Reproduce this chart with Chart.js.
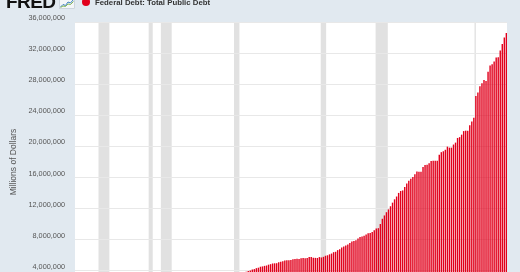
<!DOCTYPE html>
<html>
<head>
<meta charset="utf-8">
<script src="https://cdn.jsdelivr.net/npm/chart.js@4.4.1/dist/chart.umd.min.js"></script>
<style>
  html, body { margin: 0; padding: 0; }
  body { width: 520px; height: 272px; overflow: hidden; background: #e1e9f0; position: relative;
         font-family: "Liberation Sans", Arial, sans-serif; }
  #wrap { position: absolute; left: 0; top: 0; width: 520px; height: 330px; }
  #logo { position: absolute; left: 6px; top: -8px; font-size: 19px; line-height: 19px; font-weight: 900;
          color: #111; letter-spacing: -0.6px; }
  #logo-icon { position: absolute; left: 59px; top: -2px; }
  #legend { position: absolute; left: 82px; top: -3px; height: 12px; line-height: 12px; white-space: nowrap;
            font-size: 7.8px; font-weight: bold; color: #333; }
  #legend .dot { display: inline-block; width: 8px; height: 8px; border-radius: 50%; background: #e1001c;
                 vertical-align: middle; margin-right: 5px; position: relative; top: -1px; }
</style>
</head>
<body>
<div id="wrap"><canvas id="chart"></canvas></div>
<div id="logo">FRED</div>
<svg id="logo-icon" width="16" height="11" viewBox="0 0 16 11">
  <rect x="0.5" y="0.5" width="15" height="10" fill="#f4f6f8" stroke="#b9c4cf" stroke-width="0.6"/>
  <polyline points="1.5,9 4,6.5 6.5,7.5 9,4 11.5,5 14.5,1.5" fill="none" stroke="#3c7fc0" stroke-width="1"/>
  <polyline points="1.5,9.5 4,8 6.5,8.5 9,6 11.5,6.5 14.5,3.5" fill="none" stroke="#7cb342" stroke-width="0.9"/>
</svg>
<div id="legend"><span class="dot"></span>Federal Debt: Total Public Debt</div>

<script>
// Federal Debt: Total Public Debt, quarterly, millions of dollars (1971 Q1 – 2024 Q1)
const firstYear = 1971;
const debtValues = [
  // 1971 – 1980
  400000, 406000, 418000, 425000,
  430000, 433000, 440000, 449000,
  456000, 458000, 466000, 469000,
  473000, 475000, 482000, 493000,
  515000, 544000, 571000, 602000,
  625000, 640000, 658000, 682000,
  696000, 708000, 717000, 747000,
  765000, 773000, 783000, 800000,
  817000, 816000, 833000, 858000,
  881000, 895000, 917000, 950000,
  // 1981 – 1990
  970000, 986000, 1003000, 1043000,
  1070000, 1087000, 1147000, 1202000,
  1247000, 1309000, 1381000, 1433000,
  1479000, 1512000, 1572000, 1662000,
  1715000, 1775000, 1823000, 1945000,
  1986000, 2059000, 2125000, 2214000,
  2249000, 2313000, 2350000, 2432000,
  2493000, 2555000, 2602000, 2684000,
  2740000, 2799000, 2857000, 2953000,
  3052000, 3143000, 3233000, 3364000,
  // 1991 – 2000
  3465000, 3538000, 3665000, 3801000,
  3881000, 3984000, 4065000, 4177000,
  4230000, 4352000, 4411000, 4536000,
  4576000, 4646000, 4692000, 4800000,
  4864000, 4951000, 4974000, 4989000,
  5117000, 5161000, 5224000, 5323000,
  5380000, 5376000, 5413000, 5502000,
  5542000, 5548000, 5526000, 5614000,
  5651000, 5638000, 5656000, 5776000,
  5773000, 5686000, 5674000, 5662000,
  // 2001 – 2010
  5773000, 5726000, 5807000, 5943000,
  6006000, 6126000, 6228000, 6405000,
  6460000, 6670000, 6783000, 6998000,
  7131000, 7274000, 7379000, 7596000,
  7776000, 7836000, 7933000, 8170000,
  8371000, 8420000, 8507000, 8680000,
  8849000, 8867000, 9008000, 9229000,
  9437000, 9492000, 10025000, 10700000,
  11127000, 11545000, 11910000, 12311000,
  12773000, 13202000, 13562000, 14025000,
  // 2011 – 2020
  14270000, 14343000, 14790000, 15223000,
  15582000, 15856000, 16066000, 16433000,
  16771000, 16738000, 16738000, 17352000,
  17601000, 17633000, 17824000, 18141000,
  18152000, 18152000, 18151000, 18922000,
  19264000, 19381000, 19573000, 19977000,
  19846000, 19845000, 20245000, 20493000,
  21090000, 21195000, 21516000, 21974000,
  22028000, 22023000, 22719000, 23201000,
  23687000, 26477000, 26945000, 27748000,
  // 2021 – 2024
  28132000, 28529000, 28428000, 29617000,
  30401000, 30568000, 30929000, 31420000,
  31458000, 32332000, 33167000, 34001000,
  34586000
];

// NBER recessions (peak month, trough month)
const recessionStarts = ['1969-12', '1973-11', '1980-01', '1981-07', '1990-07', '2001-03', '2007-12', '2020-02'];
const recessionEnds   = ['1970-11', '1975-03', '1980-07', '1982-11', '1991-03', '2001-11', '2009-06', '2020-04'];

// y-axis ticks
const yMin = 0, yMax = 36000000, yStep = 4000000;

const seriesLabel = 'Federal Debt: Total Public Debt';
const axisTitle = 'Millions of Dollars';

function monthToYear(s) {
  const [y, m] = s.split('-').map(Number);
  return y + (m - 1) / 12;
}

const points = debtValues.map((v, i) => ({ x: firstYear + i / 4, y: v }));

const recessionShading = {
  id: 'recessionShading',
  beforeDraw(chart) {
    const { ctx, chartArea: a, scales: { x } } = chart;
    ctx.save();
    ctx.fillStyle = '#ffffff';
    ctx.fillRect(a.left, a.top, a.right - a.left, a.bottom - a.top);
    ctx.beginPath();
    ctx.rect(a.left, a.top, a.right - a.left, a.bottom - a.top);
    ctx.clip();
    ctx.fillStyle = '#e1e1e1';
    recessionStarts.forEach((s, i) => {
      const x0 = x.getPixelForValue(monthToYear(s));
      const x1 = x.getPixelForValue(monthToYear(recessionEnds[i]));
      ctx.fillRect(x0, a.top, Math.max(x1 - x0, 1), a.bottom - a.top);
    });
    ctx.restore();
  }
};

new Chart(document.getElementById('chart'), {
  type: 'bar',
  data: {
    datasets: [{
      label: seriesLabel,
      data: points,
      backgroundColor: '#e1001c',
      borderWidth: 0,
      barPercentage: 0.7,
      categoryPercentage: 1.0
    }]
  },
  options: {
    responsive: true,
    maintainAspectRatio: false,
    animation: false,
    layout: { padding: { top: 22, right: 13, left: 0, bottom: 28 } },
    plugins: { legend: { display: false }, tooltip: { enabled: false } },
    scales: {
      x: {
        type: 'linear',
        display: false,
        offset: false,
        min: 1970.94,
        max: 2024.08
      },
      y: {
        min: yMin,
        max: yMax,
        border: { display: false },
        grid: { color: '#e8e8e8', lineWidth: 1, drawTicks: false },
        ticks: {
          stepSize: yStep,
          padding: 10,
          labelOffset: -4,
          color: '#555555',
          font: { family: '"Liberation Sans", Arial, sans-serif', size: 7.3 },
          callback: v => v.toLocaleString('en-US')
        },
        title: {
          display: true,
          text: axisTitle,
          color: '#555555',
          font: { family: '"Liberation Sans", Arial, sans-serif', size: 8.5 },
          padding: { top: 9, bottom: 0 }
        },
        afterFit(scale) { scale.width = 75; }
      }
    }
  },
  plugins: [recessionShading]
});
</script>
</body>
</html>
